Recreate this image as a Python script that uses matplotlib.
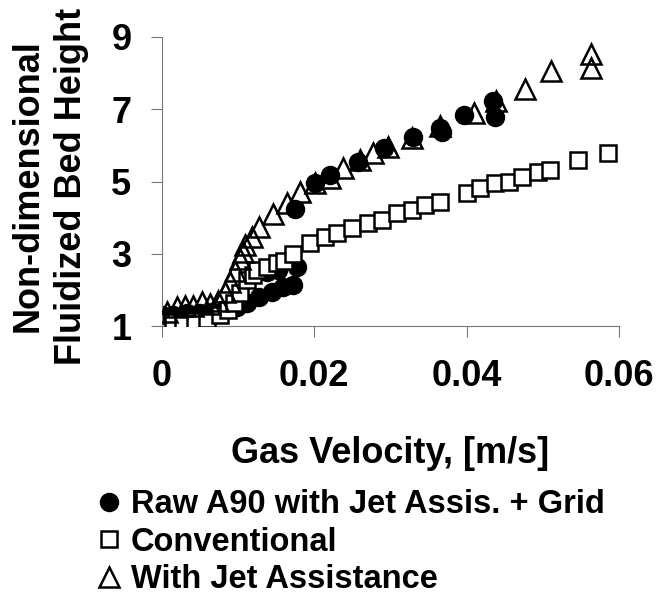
import matplotlib
matplotlib.use("Agg")
import matplotlib.pyplot as plt

# Raw A90 with jet assistance + grid
circ_x = [0.0, 0.0015, 0.0033, 0.005, 0.0065, 0.0082, 0.0098, 0.0111, 0.0128, 0.0144,
          0.0159, 0.0172, 0.0138, 0.0152, 0.0177, 0.0175, 0.0201, 0.022, 0.0257, 0.0292,
          0.033, 0.0365, 0.0368, 0.0397, 0.0434, 0.0437]
circ_y = [1.30, 1.30, 1.36, 1.36, 1.39, 1.44, 1.52, 1.64, 1.80, 1.94,
          2.08, 2.13, 2.5, 2.55, 2.62, 4.25, 4.95, 5.17, 5.53, 5.92,
          6.22, 6.47, 6.36, 6.83, 7.24, 6.78]

# Conventional
sq_x = [0.0014, 0.0028, 0.0043, 0.0059, 0.0076, 0.0087, 0.0095, 0.0103, 0.0111, 0.012,
        0.0125, 0.0138, 0.0151, 0.016, 0.0172, 0.0194, 0.0214, 0.023, 0.025, 0.027,
        0.0289, 0.0308, 0.0328, 0.0345, 0.0365, 0.04, 0.0417, 0.0437, 0.0456, 0.0473,
        0.0493, 0.0509, 0.0546, 0.0585]
sq_y = [1.1, 1.12, 1.15, 1.2, 1.3, 1.45, 1.65, 1.9, 2.27, 2.4,
        2.55, 2.63, 2.74, 2.8, 3.0, 3.3, 3.46, 3.57, 3.7, 3.85,
        3.93, 4.12, 4.2, 4.34, 4.43, 4.67, 4.81, 4.95, 4.98, 5.12,
        5.25, 5.31, 5.59, 5.8]

# With jet assistance
tri_x = [0.0007, 0.002, 0.003, 0.0041, 0.0052, 0.0063, 0.0073, 0.0083, 0.0089, 0.0096,
         0.0102, 0.0106, 0.0109, 0.0118, 0.0128, 0.0146, 0.0164, 0.0181, 0.0201, 0.022,
         0.0237, 0.026, 0.0277, 0.0297, 0.0328, 0.0365, 0.041, 0.0439, 0.0477, 0.0511,
         0.0563, 0.0563]
tri_y = [1.4, 1.52, 1.55, 1.55, 1.66, 1.61, 1.69, 1.94, 2.22, 2.52,
         2.85, 3.05, 3.25, 3.45, 3.75, 4.1, 4.4, 4.7, 4.95, 5.1,
         5.36, 5.6, 5.78, 5.95, 6.2, 6.55, 6.9, 7.24, 7.57, 8.07,
         8.54, 8.13]

x_ticks = [0, 0.02, 0.04, 0.06]
x_labels = ["0", "0.02", "0.04", "0.06"]
y_ticks = [1, 3, 5, 7, 9]

plt.rcParams['font.family'] = ['Liberation Sans', 'DejaVu Sans']
plt.rcParams['font.weight'] = 'bold'

fig = plt.figure(figsize=(6.59, 5.95), dpi=100)
ax = fig.add_axes([162 / 659, 1 - 326 / 595, 457 / 659, 289 / 595])

l1, = ax.plot(circ_x, circ_y, 'o', ms=13, mfc='black', mec='black', zorder=2,
              label='Raw A90 with Jet Assis. + Grid')
l2, = ax.plot(sq_x, sq_y, 's', ms=11, mfc='white', mec='black', mew=1.8, zorder=3,
              label='Conventional')
l3, = ax.plot(tri_x, tri_y, '^', ms=14, mfc='none', mec='black', mew=1.8, zorder=4,
              label='With Jet Assistance')

ax.set_xlim(0, 0.06)
ax.set_ylim(1, 9)
ax.set_xticks(x_ticks)
ax.set_xticklabels(x_labels)
ax.set_yticks(y_ticks)
ax.tick_params(axis='both', labelsize=26, length=8, width=0.8, color='#777777')
ax.tick_params(axis='x', pad=16)
ax.tick_params(axis='y', pad=14)
for side in ['top', 'right']:
    ax.spines[side].set_visible(False)
for side in ['left', 'bottom']:
    ax.spines[side].set_color('#777777')
    ax.spines[side].set_linewidth(0.8)
for lab in ax.get_xticklabels() + ax.get_yticklabels():
    lab.set_fontweight('bold')

ax.set_xlabel('Gas Velocity, [m/s]', fontsize=26, fontweight='bold', labelpad=30)

fig.text(50 / 659, 1 - 186 / 595, 'Non-dimensional\nFluidized Bed Height',
         rotation=90, fontsize=26, fontweight='bold', ha='center', va='center',
         linespacing=1.3, multialignment='center')

fig.legend(handles=[l1, l2, l3], loc='upper left',
           bbox_to_anchor=(80 / 659, 1 - 473 / 595), frameon=False,
           prop={'size': 23.5, 'weight': 'bold'}, handlelength=0.8,
           handletextpad=0.25, labelspacing=0.2, borderpad=0, markerscale=1.0)

fig.savefig('out.png', dpi=100)
